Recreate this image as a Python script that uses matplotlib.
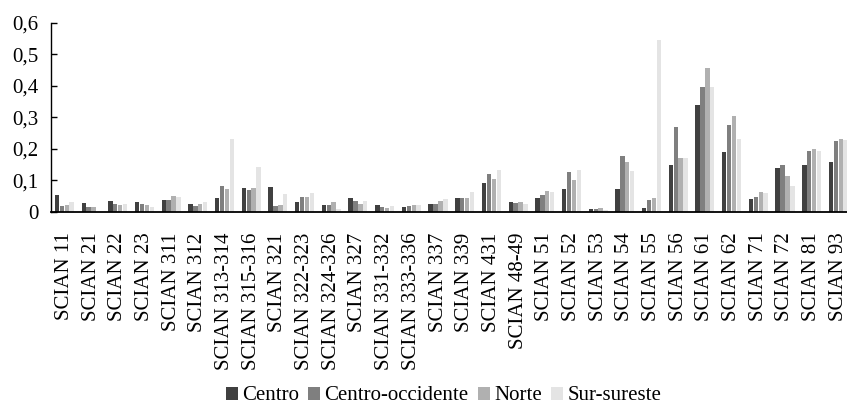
import matplotlib
matplotlib.use("Agg")
import matplotlib.pyplot as plt
import numpy as np
from matplotlib.ticker import FuncFormatter

plt.rcParams['font.family'] = ['Liberation Serif', 'DejaVu Serif']

categories = ["SCIAN 11", "SCIAN 21", "SCIAN 22", "SCIAN 23", "SCIAN 311", "SCIAN 312",
              "SCIAN 313-314", "SCIAN 315-316", "SCIAN 321", "SCIAN 322-323", "SCIAN 324-326",
              "SCIAN 327", "SCIAN 331-332", "SCIAN 333-336", "SCIAN 337", "SCIAN 339",
              "SCIAN 431", "SCIAN 48-49", "SCIAN 51", "SCIAN 52", "SCIAN 53", "SCIAN 54",
              "SCIAN 55", "SCIAN 56", "SCIAN 61", "SCIAN 62", "SCIAN 71", "SCIAN 72",
              "SCIAN 81", "SCIAN 93"]

centro = [0.052, 0.028, 0.033, 0.031, 0.036, 0.026, 0.043, 0.076, 0.079, 0.032,
          0.020, 0.042, 0.021, 0.016, 0.024, 0.042, 0.091, 0.032, 0.042, 0.073,
          0.007, 0.071, 0.011, 0.147, 0.339, 0.188, 0.039, 0.140, 0.149, 0.158]
centro_occidente = [0.019, 0.016, 0.023, 0.023, 0.036, 0.019, 0.080, 0.069, 0.018, 0.047,
                    0.021, 0.033, 0.015, 0.018, 0.026, 0.042, 0.119, 0.028, 0.052, 0.125,
                    0.007, 0.177, 0.038, 0.270, 0.395, 0.274, 0.046, 0.147, 0.194, 0.226]
norte = [0.022, 0.015, 0.022, 0.021, 0.050, 0.024, 0.071, 0.074, 0.021, 0.048,
         0.030, 0.024, 0.013, 0.021, 0.033, 0.042, 0.103, 0.032, 0.065, 0.101,
         0.011, 0.157, 0.043, 0.172, 0.455, 0.304, 0.063, 0.114, 0.198, 0.231]
sur_sureste = [0.031, 0.0, 0.023, 0.015, 0.048, 0.031, 0.232, 0.142, 0.056, 0.058,
               0.007, 0.034, 0.019, 0.021, 0.040, 0.063, 0.131, 0.024, 0.061, 0.132,
               0.005, 0.128, 0.544, 0.172, 0.397, 0.230, 0.059, 0.081, 0.194, 0.227]

series_names = ["Centro", "Centro-occidente", "Norte", "Sur-sureste"]
colors = ["#404040", "#7f7f7f", "#b0b0b0", "#e4e4e4"]
series = [centro, centro_occidente, norte, sur_sureste]

fig = plt.figure(figsize=(8.47, 4.08), dpi=100)
ax = fig.add_axes([51/847, 1 - 211.7/408, 1 - 51/847, (211.7 - 22.7)/408])

x = np.arange(len(categories))
step = 0.183
width = 0.165
for i, (vals, name, c) in enumerate(zip(series, series_names, colors)):
    ax.bar(x + (i - 1.5) * step, vals, width=width, color=c, label=name)

ax.set_ylim(0, 0.6)
ax.set_xlim(-0.5, -0.5 + (847 - 51) / 26.69)
ax.set_yticks(np.arange(0, 0.61, 0.1))
ax.yaxis.set_major_formatter(FuncFormatter(lambda v, p: "0" if abs(v) < 1e-9 else f"{v:.1f}".replace(".", ",")))
ax.set_xticks(x)
ax.set_xticklabels(categories, rotation=90, fontsize=15, va='top', ha='center')
ax.tick_params(axis='x', length=0, pad=15)
ax.tick_params(axis='y', direction='in', length=4, width=1, labelsize=15, pad=9)
for s in ['top', 'right']:
    ax.spines[s].set_visible(False)
ax.spines['left'].set_linewidth(1.0)
ax.spines['bottom'].set_linewidth(1.3)

fig.legend(loc='center', bbox_to_anchor=(443.5/847, 1 - 396/408), ncol=4, frameon=False,
           fontsize=15, handlelength=0.58, handleheight=0.58, handletextpad=0.2,
           columnspacing=0.45, borderpad=0.2)

fig.savefig("out.png", dpi=100)
